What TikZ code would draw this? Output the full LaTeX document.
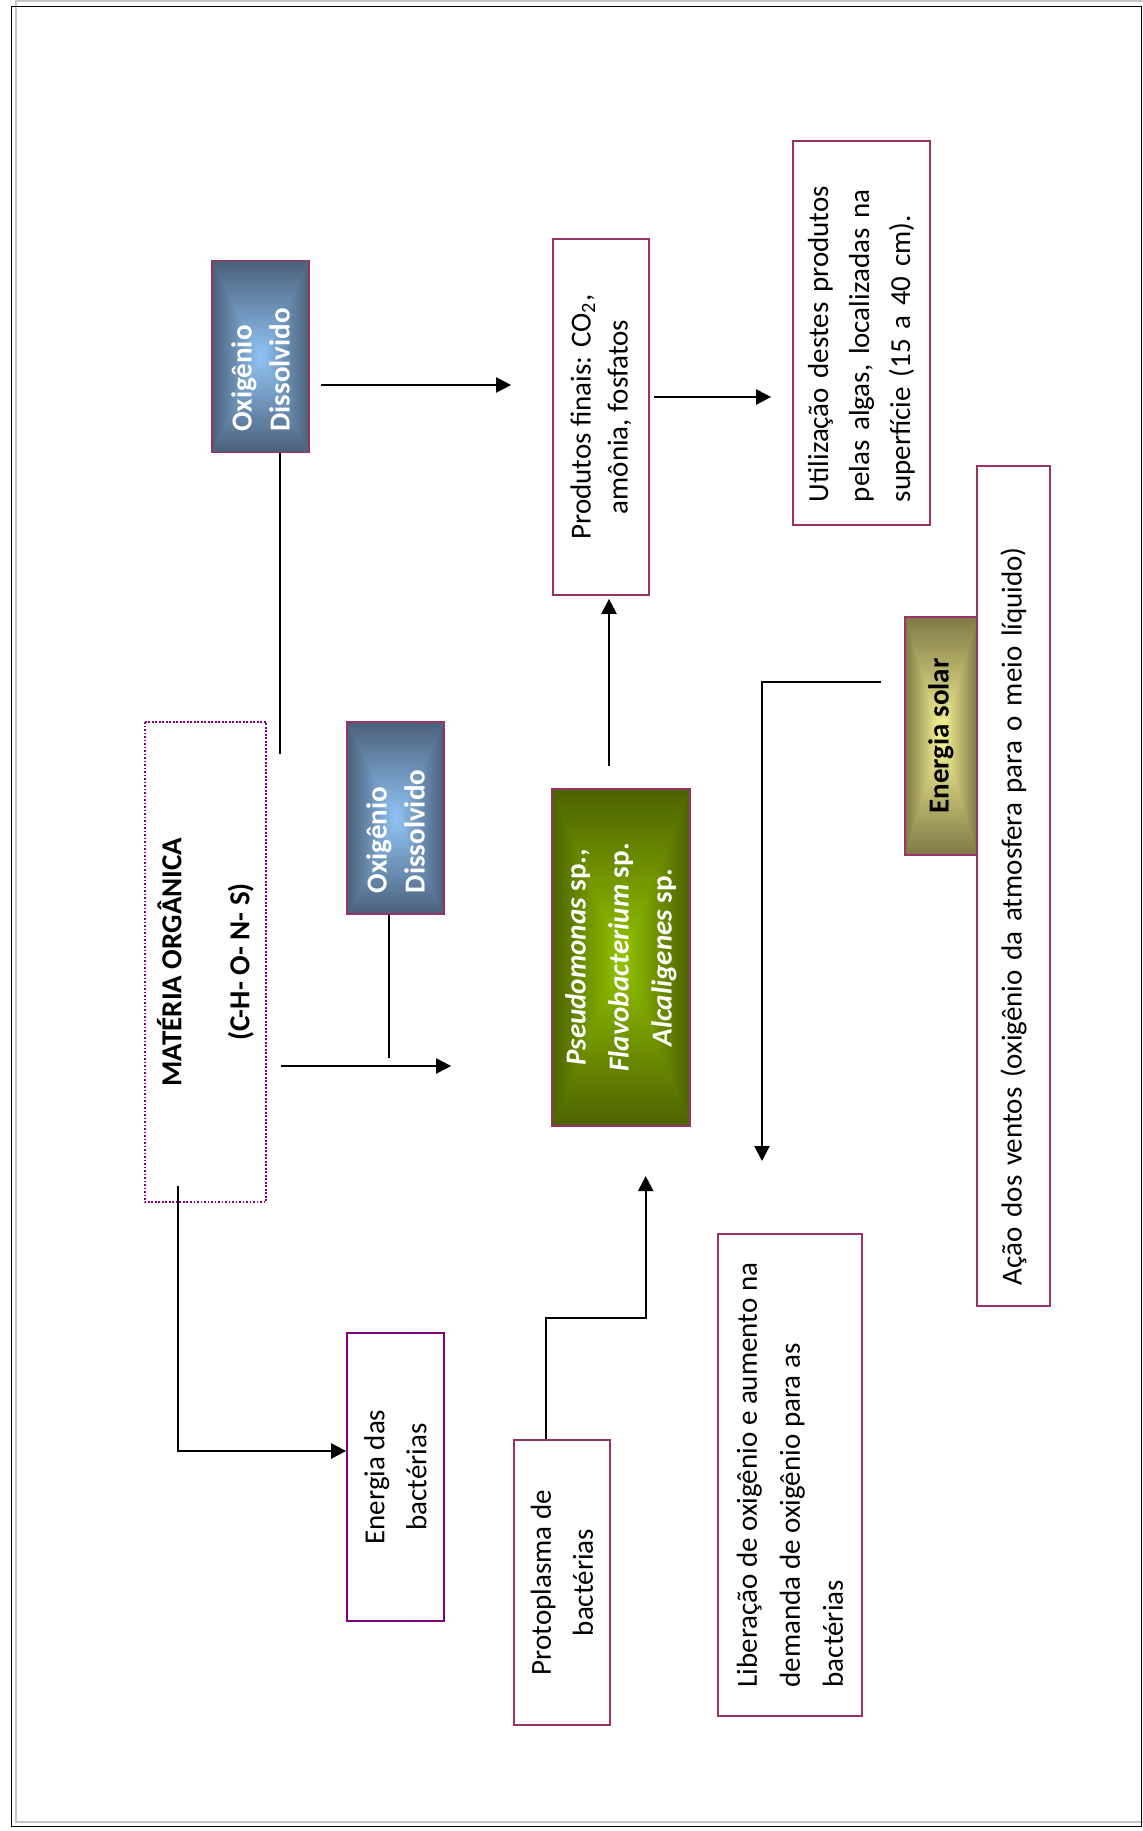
\documentclass[tikz,border=0pt]{standalone}
\usepackage{fontspec}
\setmainfont{Carlito}
\usetikzlibrary{arrows.meta}
\definecolor{bord}{RGB}{153,51,102}
\definecolor{purp}{RGB}{128,0,128}
\definecolor{oxE}{RGB}{74,96,122}
\definecolor{oxC}{RGB}{145,196,245}
\definecolor{grE}{RGB}{76,98,0}
\definecolor{grC}{RGB}{148,196,0}
\definecolor{soE}{RGB}{126,121,70}
\definecolor{soC}{RGB}{252,248,152}
\newcommand\rgrad[6]{%
  \fill[#5!50!#6] (#1,#2) rectangle (#3,#4);
  \shade[left color=#5,right color=#6] (#1,#2) -- ({(#1+#3)/2},{(#2+#4)/2}) -- (#1,#4) -- cycle;
  \shade[left color=#6,right color=#5] (#3,#2) -- ({(#1+#3)/2},{(#2+#4)/2}) -- (#3,#4) -- cycle;
  \shade[top color=#5,bottom color=#6] (#1,#2) -- ({(#1+#3)/2},{(#2+#4)/2}) -- (#3,#2) -- cycle;
  \shade[top color=#6,bottom color=#5] (#1,#4) -- ({(#1+#3)/2},{(#2+#4)/2}) -- (#3,#4) -- cycle;
}
\newcommand\fsz[1]{\fontsize{11.6pt}{#1}\selectfont}
\begin{document}
\begin{tikzpicture}[x=0.4pt,y=-0.4pt,
  pbox/.style={draw=bord, line width=0.7pt, rotate=90, inner sep=0pt, align=center, font=\fsz{16.8pt}},
  oxbox/.style={pbox, minimum width=76.8pt, minimum height=38.8pt, align=left, text width=60pt, text=white, font=\bfseries\fsz{15.2pt}},
  conn/.style={line width=0.9pt},
  arr/.style={conn, -{Triangle[length=6pt,width=6pt]}}]
\useasboundingbox (0,0) rectangle (1143,1831);
\fill[white] (0,0) rectangle (1143,1831);
% frame
\draw[gray!45, line width=0.6pt] (1143,1) -- (16,1) -- (16,1822) -- (1143,1822);
\draw[black, line width=0.7pt] (11.5,6.5) rectangle (1141.5,1826.5);
% gradient fills
\rgrad{212}{261}{309}{452}{oxE}{oxC}
\rgrad{347}{722}{444}{914}{oxE}{oxC}
\rgrad{552}{789}{690}{1126}{grE}{grC}
\rgrad{905}{617}{977}{855}{soE}{soC}
% boxes
\node[oxbox] (oxA) at (260.5,356.5) {Oxigênio\\Dissolvido};
\node[oxbox] (oxB) at (395.5,818) {Oxigênio\\Dissolvido};
\node[pbox, minimum width=142.4pt, minimum height=38.4pt, font=\fsz{14.8pt}] (prod) at (601,417) {Produtos finais: CO\textsubscript{2},\\amônia, fosfatos};
\node[pbox, minimum width=153.6pt, minimum height=54.8pt, align=left, text width=135.2pt, font=\fsz{16.4pt}] (util) at (861.5,333) {Utilização destes produtos\\pelas algas, localizadas na\\superfície (15 a 40 cm).};
\node[draw=purp, line width=0.8pt, dash pattern=on 0.7pt off 0.7pt, rotate=90, inner sep=0pt, minimum width=192pt, minimum height=48.4pt, align=center, font=\bfseries\fsz{15pt}] (mat) at (205.5,962) {MATÉRIA ORGÂNICA\\[12.2pt](C-H- O- N- S)};
\node[pbox, minimum width=134.8pt, minimum height=55.2pt, text=white, font=\bfseries\fsz{17.2pt}] (bac) at (621,957.5) {\textit{Pseudomonas} sp.,\\\textit{Flavobacterium} sp.\\\textit{Alcaligenes} sp.};
\node[pbox, minimum width=95.2pt, minimum height=28.8pt, font=\bfseries\fsz{15pt}] (sol) at (941,736) {Energia solar};
\node[pbox, minimum width=336pt, minimum height=29.2pt, align=left, text width=319.2pt] (vent) at (1013.5,886) {Ação dos ventos (oxigênio da atmosfera para o meio líquido)};
\node[pbox, draw=purp, minimum width=115.2pt, minimum height=38.8pt] (ener) at (395.5,1477) {Energia das\\bactérias};
\node[pbox, minimum width=114pt, minimum height=38.4pt] (proto) at (562,1582.5) {Protoplasma de\\bactérias};
\node[pbox, minimum width=192.8pt, minimum height=57.6pt, align=left, font=\fsz{17.2pt}] (lib) at (790,1475) {Liberação de oxigênio e aumento na\\demanda de oxigênio para as\\bactérias};
% connector ends
\coordinate (c1) at (280,754);
\coordinate (c5) at (389,1058);
\coordinate (c7) at (177.7,1186);
\coordinate (c8) at (645.7,1176);
\coordinate (c9) at (762,1161);
% connectors
\draw[conn] (oxA.west -| c1) -- (c1);
\draw[arr, shorten <=4.4pt, shorten >=16.4pt] (oxA.south |- 0,385) -- (prod.north |- 0,385);
\draw[arr, shorten <=1.6pt, shorten >=8.4pt] (prod.south |- 0,397) -- (util.north |- 0,397);
\draw[arr, shorten <=5.6pt, shorten >=40pt] (mat.south |- 0,1066) -- (bac.north |- 0,1066);
\draw[conn] (oxB.west -| c5) -- (c5);
\draw[arr, shorten <=8.8pt, shorten >=1.2pt] (bac.east -| 609,0) -- (prod.west -| 609,0);
\draw[arr] (c7) |- (ener.north |- 0,1451);
\draw[arr] (proto.east -| 545.7,0) |- (c8 |- 0,1318) -- (c8);
\draw[arr, shorten <=9.2pt] (sol.north |- 0,682) -| (c9);
\end{tikzpicture}
\end{document}
